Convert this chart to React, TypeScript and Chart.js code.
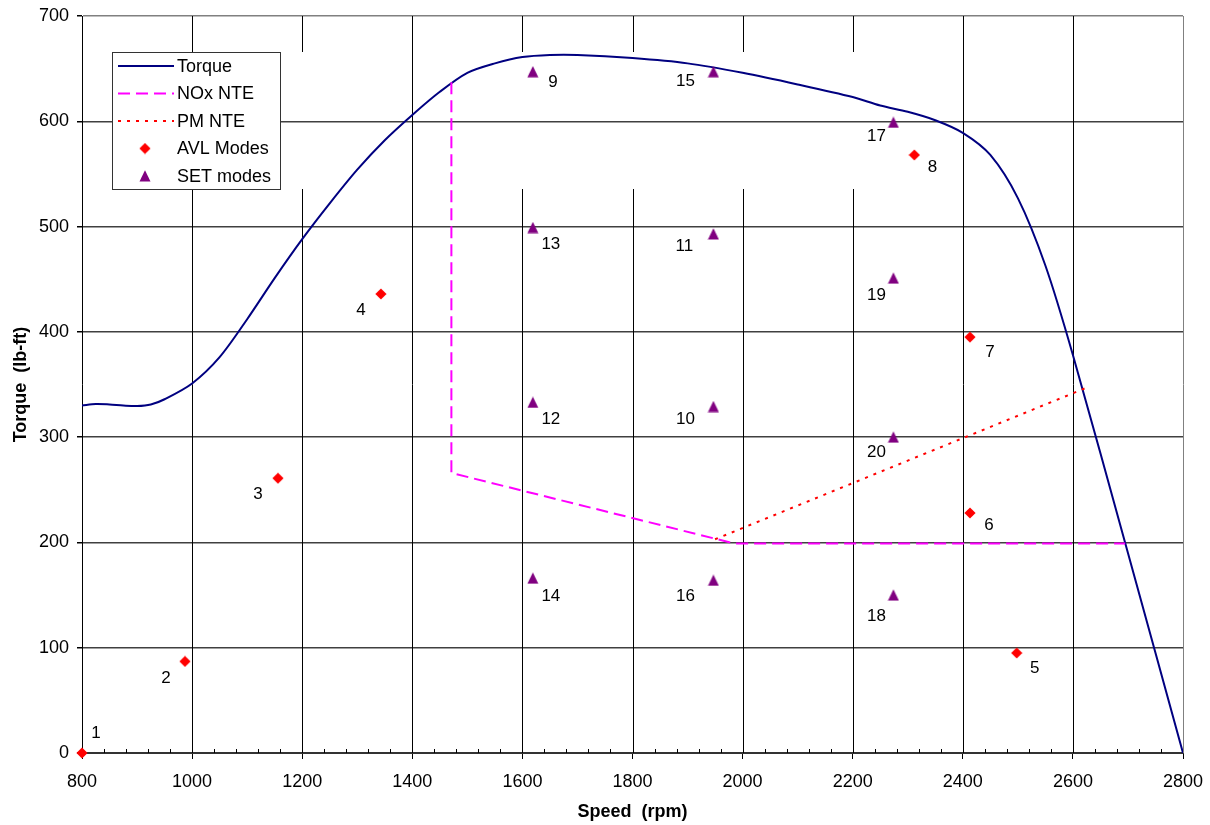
import React, { useEffect, useRef } from 'react';
import { Chart, registerables } from 'chart.js';

Chart.register(...registerables);

// ---------- data ----------
const TORQUE_SPEED = [800, 825, 850, 875, 900, 925, 950, 1000, 1050, 1100, 1150, 1200, 1250, 1300, 1350, 1400, 1450, 1500, 1550, 1600, 1650, 1700, 1800, 1900, 2000, 2100, 2200, 2250, 2300, 2350, 2400, 2450, 2500, 2550, 2600, 2700, 2800];
const TORQUE_VALUES = [330, 331.5, 331, 330, 329.5, 331, 336, 351, 376, 412, 451, 488, 522, 554, 582, 606, 628, 646, 655, 661, 663, 663, 660, 655, 646, 635, 623, 615, 609, 601, 589, 568, 527, 463, 378, 190, 0];

const NOX_SPEED = [1471, 1471, 1985, 2695];
const NOX_TORQUE = [637, 266, 199, 199];

const PM_SPEED = [1950, 2625];
const PM_TORQUE = [203, 347];

const AVL_LABELS = ['1', '2', '3', '4', '5', '6', '7', '8'];
const AVL_SPEED = [800, 987, 1156, 1343, 2498, 2413, 2413, 2312];
const AVL_TORQUE = [0, 87, 261, 436, 95, 228, 395, 568];

const SET_LABELS = ['9', '10', '11', '12', '13', '14', '15', '16', '17', '18', '19', '20'];
const SET_SPEED = [1619, 1947, 1947, 1619, 1619, 1619, 1947, 1947, 2274, 2274, 2274, 2274];
const SET_TORQUE = [647, 329, 493, 333, 499, 166, 647, 164, 599, 150, 451, 300];

const X_MIN = 800;
const X_MAX = 2800;
const X_STEP = 200;
const X_MINOR_STEP = 40;
const Y_MIN = 0;
const Y_MAX = 700;
const Y_STEP = 100;

const X_TITLE = 'Speed  (rpm)';
const Y_TITLE = 'Torque  (lb-ft)';
const SERIES_NAMES = ['Torque', 'NOx NTE', 'PM NTE', 'AVL Modes', 'SET modes'];

// ---------- layout / style (not data) ----------
const AVL_LABEL_OFFSETS: [number, number][] = [[14, -20], [-19, 17], [-20, 16], [-20, 16], [18, 15], [19, 12], [20, 15], [18, 12]];
const SET_LABEL_OFFSETS: [number, number][] = [[20, 11], [-28, 13], [-29, 12], [18, 17], [18, 17], [18, 18], [-28, 10], [-28, 16], [-17, 14], [-17, 21], [-17, 17], [-17, 15]];
const GRID_GAP_X = [1200, 1600, 1800, 2000, 2200];
const FONT = '"Liberation Sans", Arial, sans-serif';
const NAVY = '#000080';
const MAGENTA = '#FF00FF';
const RED = '#FF0000';
const PURPLE = '#800080';
const LEGEND_BOX = { x: 112, y: 52, w: 168, h: 137 };

function makeMarker(kind: 'diamond' | 'triangle', color: string) {
  const c = document.createElement('canvas');
  c.width = 12;
  c.height = 12;
  const g = c.getContext('2d')!;
  g.fillStyle = color;
  g.beginPath();
  if (kind === 'diamond') {
    g.moveTo(6, 0.4);
    g.lineTo(11.6, 6);
    g.lineTo(6, 11.6);
    g.lineTo(0.4, 6);
  } else {
    g.moveTo(6, 0.3);
    g.lineTo(11.5, 11.6);
    g.lineTo(0.5, 11.6);
  }
  g.closePath();
  g.fill();
  return c;
}

export default function App() {
  const ref = useRef<HTMLCanvasElement | null>(null);

  useEffect(() => {
    if (!ref.current) return;
    const diamond = makeMarker('diamond', RED);
    const triangle = makeMarker('triangle', PURPLE);

    const gridPlugin = {
      id: 'customGrid',
      beforeDatasetsDraw(chart: any) {
        const { ctx, chartArea, scales } = chart;
        const x = scales.x;
        ctx.save();
        ctx.lineWidth = 1;
        for (let v = X_MIN + X_STEP; v <= X_MAX; v += X_STEP) {
          const px = Math.round(x.getPixelForValue(v)) + 0.5;
          ctx.strokeStyle = v === X_MAX ? '#808080' : '#000000';
          ctx.beginPath();
          if (GRID_GAP_X.includes(v)) {
            ctx.moveTo(px, chartArea.top);
            ctx.lineTo(px, LEGEND_BOX.y);
            ctx.moveTo(px, LEGEND_BOX.y + LEGEND_BOX.h);
            ctx.lineTo(px, chartArea.bottom);
          } else {
            ctx.moveTo(px, chartArea.top);
            ctx.lineTo(px, chartArea.bottom);
          }
          ctx.stroke();
        }
        ctx.restore();
      },
      afterDatasetsDraw(chart: any) {
        const { ctx, chartArea, scales } = chart;
        const x = scales.x;
        const y = scales.y;
        ctx.save();
        // minor ticks on x axis (pointing inward)
        ctx.strokeStyle = '#000';
        ctx.lineWidth = 1;
        for (let v = X_MIN; v <= X_MAX; v += X_MINOR_STEP) {
          if ((v - X_MIN) % X_STEP === 0) continue;
          const px = Math.round(x.getPixelForValue(v)) + 0.5;
          ctx.beginPath();
          ctx.moveTo(px, chartArea.bottom);
          ctx.lineTo(px, chartArea.bottom - 4);
          ctx.stroke();
        }
        // point labels
        ctx.font = `17px ${FONT}`;
        ctx.fillStyle = '#000';
        ctx.textAlign = 'center';
        ctx.textBaseline = 'middle';
        AVL_LABELS.forEach((t, i) => {
          const [dx, dy] = AVL_LABEL_OFFSETS[i];
          ctx.fillText(t, x.getPixelForValue(AVL_SPEED[i]) + dx, y.getPixelForValue(AVL_TORQUE[i]) + dy);
        });
        SET_LABELS.forEach((t, i) => {
          const [dx, dy] = SET_LABEL_OFFSETS[i];
          ctx.fillText(t, x.getPixelForValue(SET_SPEED[i]) + dx, y.getPixelForValue(SET_TORQUE[i]) + dy);
        });
        ctx.restore();
      },
      afterDraw(chart: any) {
        const { ctx } = chart;
        const b = LEGEND_BOX;
        ctx.save();
        ctx.fillStyle = '#fff';
        ctx.fillRect(b.x, b.y, b.w, b.h);
        ctx.strokeStyle = '#333';
        ctx.lineWidth = 1;
        ctx.strokeRect(b.x + 0.5, b.y + 0.5, b.w, b.h);
        const rowY = (i: number) => b.y + 14 + i * 27.5;
        const lx0 = b.x + 6;
        const lx1 = b.x + 62;
        const mx = b.x + 33;
        ctx.strokeStyle = NAVY;
        ctx.lineWidth = 2;
        ctx.setLineDash([]);
        ctx.beginPath();
        ctx.moveTo(lx0, rowY(0));
        ctx.lineTo(lx1, rowY(0));
        ctx.stroke();
        ctx.strokeStyle = MAGENTA;
        ctx.setLineDash([12, 6]);
        ctx.beginPath();
        ctx.moveTo(lx0, rowY(1));
        ctx.lineTo(lx1, rowY(1));
        ctx.stroke();
        ctx.strokeStyle = RED;
        ctx.setLineDash([3, 6]);
        ctx.beginPath();
        ctx.moveTo(lx0, rowY(2));
        ctx.lineTo(lx1, rowY(2));
        ctx.stroke();
        ctx.setLineDash([]);
        ctx.drawImage(diamond, mx - 6, rowY(3) - 6);
        ctx.drawImage(triangle, mx - 6, rowY(4) - 6);
        ctx.fillStyle = '#000';
        ctx.font = `18px ${FONT}`;
        ctx.textAlign = 'left';
        ctx.textBaseline = 'middle';
        SERIES_NAMES.forEach((n, i) => ctx.fillText(n, b.x + 65, rowY(i) + 1));
        ctx.restore();
      },
    };

    const toXY = (xs: number[], ys: number[]) => xs.map((v, i) => ({ x: v, y: ys[i] }));

    const chart = new Chart(ref.current, {
      type: 'line',
      data: {
        datasets: [
          {
            label: SERIES_NAMES[4],
            data: toXY(SET_SPEED, SET_TORQUE),
            showLine: false,
            pointStyle: triangle as any,
            pointRadius: 6,
            order: 0,
            clip: false as any,
          },
          {
            label: SERIES_NAMES[3],
            data: toXY(AVL_SPEED, AVL_TORQUE),
            showLine: false,
            pointStyle: diamond as any,
            pointRadius: 6,
            order: 1,
            clip: false as any,
          },
          {
            label: SERIES_NAMES[2],
            data: toXY(PM_SPEED, PM_TORQUE),
            borderColor: RED,
            borderWidth: 2,
            borderDash: [3, 6],
            pointRadius: 0,
            tension: 0,
            order: 2,
          },
          {
            label: SERIES_NAMES[1],
            data: toXY(NOX_SPEED, NOX_TORQUE),
            borderColor: MAGENTA,
            borderWidth: 2,
            borderDash: [12, 6],
            pointRadius: 0,
            tension: 0,
            order: 3,
          },
          {
            label: SERIES_NAMES[0],
            data: toXY(TORQUE_SPEED, TORQUE_VALUES),
            borderColor: NAVY,
            borderWidth: 2,
            pointRadius: 0,
            tension: 0.3,
            order: 4,
          },
        ],
      },
      options: {
        responsive: false,
        animation: false,
        events: [],
        layout: { padding: { top: 16, right: 27, left: 0, bottom: 0 } },
        plugins: {
          legend: { display: false },
          tooltip: { enabled: false },
          title: { display: false },
        },
        scales: {
          x: {
            type: 'linear',
            min: X_MIN,
            max: X_MAX,
            ticks: {
              stepSize: X_STEP,
              font: { family: FONT, size: 18 },
              color: '#000',
              padding: 12,
              maxRotation: 0,
              callback: (v: any) => String(v),
            },
            grid: {
              drawOnChartArea: false,
              drawTicks: true,
              tickLength: 6,
              tickColor: '#000',
            },
            border: { display: true, color: '#333', width: 2 },
            title: {
              display: true,
              text: X_TITLE,
              font: { family: FONT, size: 18, weight: 'bold' },
              color: '#000',
              padding: { top: 0, bottom: 2.5 },
            },
            afterFit: (s: any) => {
              s.height = 72;
              s.paddingLeft = 0;
              s.paddingRight = 0;
            },
          },
          y: {
            type: 'linear',
            min: Y_MIN,
            max: Y_MAX,
            ticks: {
              stepSize: Y_STEP,
              font: { family: FONT, size: 18 },
              color: '#000',
              padding: 8,
              callback: (v: any) => String(v),
            },
            grid: {
              drawTicks: true,
              tickLength: 5,
              tickColor: '#000',
              lineWidth: 1.5,
              color: (c: any) => (c.tick && c.tick.value === Y_MAX ? '#808080' : '#404040'),
            },
            border: { display: true, color: '#000', width: 1 },
            title: {
              display: true,
              text: Y_TITLE,
              font: { family: FONT, size: 18, weight: 'bold' },
              color: '#000',
              padding: { top: 10, bottom: 0 },
            },
            afterFit: (s: any) => {
              s.width = 82;
              s.paddingTop = 0;
              s.paddingBottom = 0;
            },
          },
        },
      },
      plugins: [gridPlugin],
    } as any);

    return () => chart.destroy();
  }, []);

  return (
    <div style={{ position: 'absolute', left: 0, top: 0, width: 1210, height: 825, background: '#fff' }}>
      <canvas ref={ref} width={1210} height={825} style={{ display: 'block' }} />
    </div>
  );
}
